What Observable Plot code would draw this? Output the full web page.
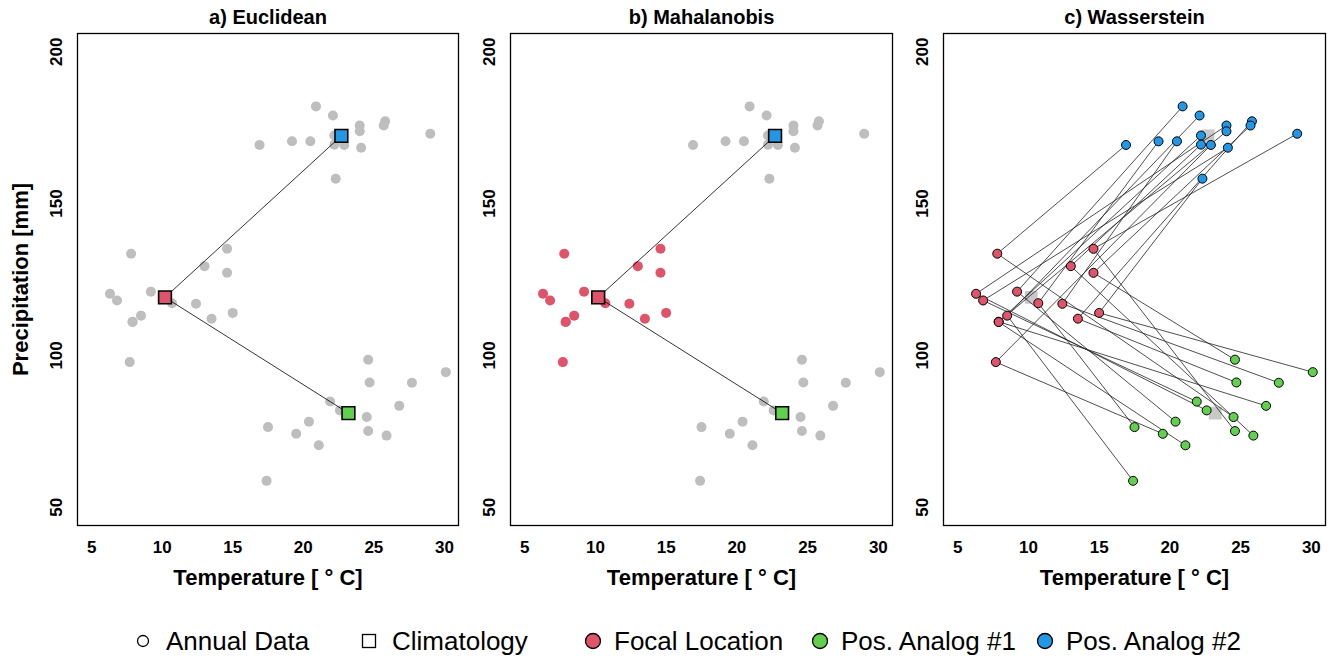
<!DOCTYPE html>
<html><head><meta charset="utf-8">
<script src="https://cdn.jsdelivr.net/npm/d3@7"></script>
<script src="https://cdn.jsdelivr.net/npm/@observablehq/plot@0.6"></script>
<style>
body{margin:0;background:#fff;font-family:"Liberation Sans",Arial,sans-serif;}
#wrap{position:relative;width:1331px;height:658px;overflow:hidden;background:#fff;}
.panel{position:absolute;top:0;}
.li{position:absolute;top:625px;height:32px;line-height:32px;font-size:26px;white-space:nowrap;color:#000;}
.sym{position:absolute;top:627px;}
</style></head><body><div id="wrap"></div>
<script>
// ---- data ----
const focalT = [7.8, 14.6, 13.0, 14.6, 9.2, 6.3, 6.8, 10.7, 12.4, 8.5, 7.9, 13.5, 15.0, 7.7, 7.9];
const focalP = [133.5, 135.1, 129.4, 127.2, 121.0, 120.3, 118.1, 117.2, 117.0, 113.1, 111.1, 112.1, 114.0, 97.8, 111.0];
const analog1T = [24.6, 30.1, 24.7, 27.7, 26.8, 21.9, 22.6, 24.5, 20.4, 17.5, 19.5, 24.6, 25.9, 21.1, 17.4];
const analog1P = [98.6, 94.5, 91.1, 91.0, 83.4, 84.8, 81.9, 79.7, 78.2, 76.4, 74.2, 75.1, 73.6, 70.4, 58.7];
const analog2T = [20.9, 22.1, 24.0, 24.0, 25.8, 25.7, 29.0, 16.9, 19.2, 20.5, 22.2, 22.2, 22.9, 24.1, 22.3];
const analog2P = [182.0, 179.0, 175.7, 173.8, 177.1, 175.7, 173.0, 169.3, 170.5, 170.5, 172.4, 169.4, 169.3, 168.4, 158.2];
const climGroups = ["Focal Location", "Pos. Analog #1", "Pos. Analog #2"];
const climT = [10.2, 23.2, 22.7];
const climP = [119.1, 81.0, 172.3];
// Wasserstein pairing: focal year i -> analog year index
const matchAnalog1 = [7, 11, 12, 0, 8, 6, 5, 9, 3, 14, 4, 2, 1, 10, 13];
const matchAnalog2 = [7, 6, 11, 5, 0, 2, 13, 8, 9, 1, 10, 4, 14, 12, 3];
const xTicks = [5, 10, 15, 20, 25, 30];
const yTicks = [50, 100, 150, 200];
const panelTitles = ["a) Euclidean", "b) Mahalanobis", "c) Wasserstein"];
const legendLabels = ["Annual Data", "Climatology", "Focal Location", "Pos. Analog #1", "Pos. Analog #2"];
const groupColors = ["#DF536B", "#61D04F", "#2297E6"];

// ---- build tables ----
const mk = (T, P, g) => T.map((t, i) => ({t, p: P[i], g}));
const focal = mk(focalT, focalP, 0);
const a1 = mk(analog1T, analog1P, 1);
const a2 = mk(analog2T, analog2P, 2);
const annual = [...focal, ...a1, ...a2];
const analogs = [...a1, ...a2];
const clim = climT.map((t, i) => ({t, p: climP[i], g: i}));
const climLinks = [1, 2].map(j => ({t1: climT[0], p1: climP[0], t2: climT[j], p2: climP[j]}));
const wLinks = [];
focal.forEach((f, i) => {
  const g = a1[matchAnalog1[i]], b = a2[matchAnalog2[i]];
  wLinks.push({t1: f.t, p1: f.p, t2: g.t, p2: g.p});
  wLinks.push({t1: f.t, p1: f.p, t2: b.t, p2: b.p});
});
const color = {type: "ordinal", domain: [0, 1, 2], range: groupColors};
const FONT = "Liberation Sans, Arial, sans-serif";
const GRAY = "#bebebe";

function axesMarks(title, yTitle, ydx) {
  const m = [
    Plot.text(xTicks, {x: d => d, frameAnchor: "bottom", dy: 22, fontWeight: "bold", fontSize: 17, lineAnchor: "middle", fill: "black"}),
    Plot.text(yTicks, {y: d => d, frameAnchor: "left", dx: ydx, rotate: -90, textAnchor: "middle", fontWeight: "bold", fontSize: 17, lineAnchor: "middle", fill: "black"}),
    Plot.text([title], {frameAnchor: "top", dy: -16, fontWeight: "bold", fontSize: 20, lineAnchor: "middle", fill: "black"}),
    Plot.text(["Temperature [ \u00B0 C]"], {frameAnchor: "bottom", dy: 52, fontWeight: "bold", fontSize: 22, lineAnchor: "middle", fill: "black"}),
    Plot.frame({stroke: "black", strokeWidth: 1.3})
  ];
  if (yTitle) m.push(Plot.text(["Precipitation [mm]"], {frameAnchor: "left", dx: -57, rotate: -90, textAnchor: "middle", fontWeight: "bold", fontSize: 22, lineAnchor: "middle", fill: "black"}));
  return m;
}

function makePanel(left, width, ml, mr, marks) {
  const svg = Plot.plot({
    width, height: 600, marginLeft: ml, marginRight: mr, marginTop: 33, marginBottom: 75,
    x: {domain: [4, 31], axis: null},
    y: {domain: [44, 206], axis: null},
    color,
    style: {fontFamily: FONT, background: "transparent", overflow: "visible"},
    marks
  });
  svg.classList.add("panel");
  svg.style.left = left + "px";
  svg.style.position = "absolute";
  svg.style.maxWidth = "none";
  document.getElementById("wrap").appendChild(svg);
}

// Panel a
makePanel(0, 463, 77, 5, [
  Plot.dot(annual, {x: "t", y: "p", r: 5, fill: GRAY}),
  Plot.link(climLinks, {x1: "t1", y1: "p1", x2: "t2", y2: "p2", stroke: "black", strokeWidth: 0.8}),
  Plot.dot(clim, {x: "t", y: "p", symbol: "square", r: 7.2, fill: "g", stroke: "black", strokeWidth: 1.6}),
  ...axesMarks(panelTitles[0], true, -21)
]);
// Panel b
makePanel(463, 434, 47, 5, [
  Plot.dot(analogs, {x: "t", y: "p", r: 5, fill: GRAY}),
  Plot.dot(focal, {x: "t", y: "p", r: 5, fill: "g"}),
  Plot.link(climLinks, {x1: "t1", y1: "p1", x2: "t2", y2: "p2", stroke: "black", strokeWidth: 0.8}),
  Plot.dot(clim, {x: "t", y: "p", symbol: "square", r: 7.2, fill: "g", stroke: "black", strokeWidth: 1.6}),
  ...axesMarks(panelTitles[1], false, -21)
]);
// Panel c
makePanel(897, 434, 46, 6, [
  Plot.dot(clim, {x: "t", y: "p", symbol: "square", r: 7.2, fill: "#c8c8c8"}),
  Plot.link(wLinks, {x1: "t1", y1: "p1", x2: "t2", y2: "p2", stroke: "#222", strokeWidth: 0.8}),
  Plot.dot(annual, {x: "t", y: "p", r: 4.5, fill: "g", stroke: "black", strokeWidth: 1}),
  ...axesMarks(panelTitles[2], false, -21)
]);

// Legend
const wrap = document.getElementById("wrap");
const symX = [143, 369, 593, 820, 1045];
const txtX = [166, 392, 614, 841, 1066];
const ns = "http://www.w3.org/2000/svg";
symX.forEach((cx, i) => {
  const s = document.createElementNS(ns, "svg");
  s.setAttribute("width", 28); s.setAttribute("height", 28);
  s.setAttribute("class", "sym");
  s.style.left = (cx - 14) + "px";
  let el;
  if (i === 1) {
    el = document.createElementNS(ns, "rect");
    el.setAttribute("x", 7.5); el.setAttribute("y", 7.5); el.setAttribute("width", 13); el.setAttribute("height", 13);
    el.setAttribute("fill", "white");
  } else {
    el = document.createElementNS(ns, "circle");
    el.setAttribute("cx", 14); el.setAttribute("cy", 14);
    el.setAttribute("r", i === 0 ? 5.5 : 7.5);
    el.setAttribute("fill", i === 0 ? "white" : groupColors[i - 2]);
  }
  el.setAttribute("stroke", "black"); el.setAttribute("stroke-width", 1.3);
  s.appendChild(el);
  wrap.appendChild(s);
  const t = document.createElement("div");
  t.className = "li";
  t.style.left = txtX[i] + "px";
  t.textContent = legendLabels[i];
  wrap.appendChild(t);
});
</script>
</body></html>
